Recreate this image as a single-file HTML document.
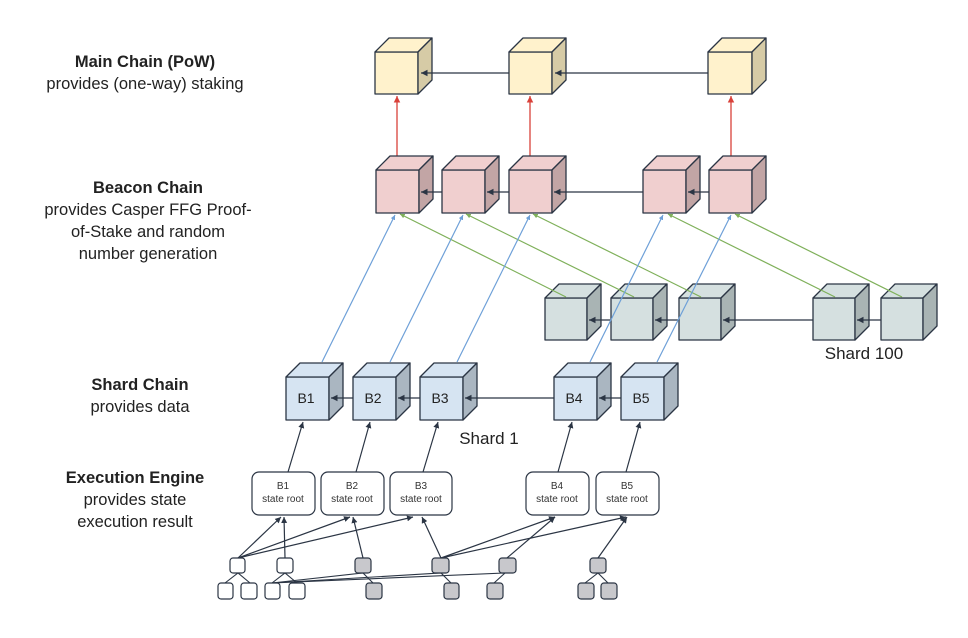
<!DOCTYPE html>
<html><head><meta charset="utf-8"><style>
body{margin:0;background:#fff;width:968px;height:638px;overflow:hidden}
svg{display:block}
.t{font-family:"Liberation Sans",sans-serif;font-size:16.5px;fill:#222;text-anchor:middle}
.b{font-weight:bold}
.c{stroke:#2b3544;stroke-width:1.3;stroke-linejoin:round}
</style></head><body>
<svg width="968" height="638" viewBox="0 0 968 638" xmlns="http://www.w3.org/2000/svg">
<defs>
<marker id="ak" markerWidth="6" markerHeight="6" refX="5" refY="3" orient="auto"><path d="M0,0.5 L5,3 L0,5.5z" fill="#2b3544"/></marker>
<marker id="ar" markerWidth="6" markerHeight="6" refX="5" refY="3" orient="auto"><path d="M0,0.5 L5,3 L0,5.5z" fill="#d9413a"/></marker>
<marker id="ab" markerWidth="5" markerHeight="5" refX="4" refY="2.5" orient="auto"><path d="M0,0.5 L4,2.5 L0,4.5z" fill="#6ea0d8"/></marker>
<marker id="ag" markerWidth="5" markerHeight="5" refX="4" refY="2.5" orient="auto"><path d="M0,0.5 L4,2.5 L0,4.5z" fill="#7fb05a"/></marker>
</defs>

<!-- left labels -->
<text class="t b" x="145" y="67">Main Chain (PoW)</text>
<text class="t" x="145" y="89">provides (one-way) staking</text>
<text class="t b" x="148" y="193">Beacon Chain</text>
<text class="t" x="148" y="215">provides Casper FFG Proof-</text>
<text class="t" x="148" y="237">of-Stake and random</text>
<text class="t" x="148" y="259">number generation</text>
<text class="t b" x="140" y="390">Shard Chain</text>
<text class="t" x="140" y="412">provides data</text>
<text class="t b" x="135" y="483">Execution Engine</text>
<text class="t" x="135" y="505">provides state</text>
<text class="t" x="135" y="527">execution result</text>

<!-- red arrows -->
<g stroke="#d9413a" stroke-width="1.3" marker-end="url(#ar)">
<line x1="397" y1="170" x2="397" y2="96"/>
<line x1="530" y1="170" x2="530" y2="96"/>
<line x1="731" y1="170" x2="731" y2="96"/>
</g>

<!-- main chain cubes -->
<g class="c">
<rect x="375" y="52" width="43" height="42" fill="#fff2cc"/><polygon points="375,52 389,38 432,38 418,52" fill="#fff2cc"/><polygon points="418,52 432,38 432,80 418,94" fill="#d6cba6"/>
<rect x="509" y="52" width="43" height="42" fill="#fff2cc"/><polygon points="509,52 523,38 566,38 552,52" fill="#fff2cc"/><polygon points="552,52 566,38 566,80 552,94" fill="#d6cba6"/>
<rect x="708" y="52" width="44" height="42" fill="#fff2cc"/><polygon points="708,52 722,38 766,38 752,52" fill="#fff2cc"/><polygon points="752,52 766,38 766,80 752,94" fill="#d6cba6"/>
</g>
<g stroke="#2b3544" stroke-width="1.3" marker-end="url(#ak)">
<line x1="509" y1="73" x2="421" y2="73"/>
<line x1="708" y1="73" x2="555" y2="73"/>
</g>

<!-- beacon cubes -->
<g class="c">
<rect x="376" y="170" width="43" height="43" fill="#f0cfcf"/><polygon points="376,170 390,156 433,156 419,170" fill="#f0cfcf"/><polygon points="419,170 433,156 433,199 419,213" fill="#c2a5a5"/>
<rect x="442" y="170" width="43" height="43" fill="#f0cfcf"/><polygon points="442,170 456,156 499,156 485,170" fill="#f0cfcf"/><polygon points="485,170 499,156 499,199 485,213" fill="#c2a5a5"/>
<rect x="509" y="170" width="43" height="43" fill="#f0cfcf"/><polygon points="509,170 523,156 566,156 552,170" fill="#f0cfcf"/><polygon points="552,170 566,156 566,199 552,213" fill="#c2a5a5"/>
<rect x="643" y="170" width="43" height="43" fill="#f0cfcf"/><polygon points="643,170 657,156 700,156 686,170" fill="#f0cfcf"/><polygon points="686,170 700,156 700,199 686,213" fill="#c2a5a5"/>
<rect x="709" y="170" width="43" height="43" fill="#f0cfcf"/><polygon points="709,170 723,156 766,156 752,170" fill="#f0cfcf"/><polygon points="752,170 766,156 766,199 752,213" fill="#c2a5a5"/>
</g>
<g stroke="#2b3544" stroke-width="1.3" marker-end="url(#ak)">
<line x1="442" y1="192" x2="421" y2="192"/>
<line x1="509" y1="192" x2="487" y2="192"/>
<line x1="643" y1="192" x2="554" y2="192"/>
<line x1="709" y1="192" x2="688" y2="192"/>
</g>

<!-- shard 100 cubes -->
<g class="c">
<rect x="545" y="298" width="42" height="42" fill="#d5e0e0"/><polygon points="545,298 559,284 601,284 587,298" fill="#d5e0e0"/><polygon points="587,298 601,284 601,326 587,340" fill="#a9b4b4"/>
<rect x="611" y="298" width="42" height="42" fill="#d5e0e0"/><polygon points="611,298 625,284 667,284 653,298" fill="#d5e0e0"/><polygon points="653,298 667,284 667,326 653,340" fill="#a9b4b4"/>
<rect x="679" y="298" width="42" height="42" fill="#d5e0e0"/><polygon points="679,298 693,284 735,284 721,298" fill="#d5e0e0"/><polygon points="721,298 735,284 735,326 721,340" fill="#a9b4b4"/>
<rect x="813" y="298" width="42" height="42" fill="#d5e0e0"/><polygon points="813,298 827,284 869,284 855,298" fill="#d5e0e0"/><polygon points="855,298 869,284 869,326 855,340" fill="#a9b4b4"/>
<rect x="881" y="298" width="42" height="42" fill="#d5e0e0"/><polygon points="881,298 895,284 937,284 923,298" fill="#d5e0e0"/><polygon points="923,298 937,284 937,326 923,340" fill="#a9b4b4"/>
</g>
<g stroke="#2b3544" stroke-width="1.3" marker-end="url(#ak)">
<line x1="611" y1="320" x2="589" y2="320"/>
<line x1="679" y1="320" x2="655" y2="320"/>
<line x1="813" y1="320" x2="723" y2="320"/>
<line x1="881" y1="320" x2="857" y2="320"/>
</g>
<text class="t" x="864" y="359" style="font-size:17px">Shard 100</text>

<!-- green lines -->
<g stroke="#7fb05a" stroke-width="1.2" marker-end="url(#ag)">
<line x1="566" y1="297" x2="400" y2="214"/>
<line x1="634" y1="297" x2="466" y2="214"/>
<line x1="701" y1="297" x2="533" y2="214"/>
<line x1="835" y1="297" x2="668" y2="214"/>
<line x1="902" y1="297" x2="735" y2="214"/>
</g>

<!-- shard 1 cubes -->
<g class="c">
<rect x="286" y="377" width="43" height="43" fill="#d6e4f2"/><polygon points="286,377 300,363 343,363 329,377" fill="#d6e4f2"/><polygon points="329,377 343,363 343,406 329,420" fill="#aab6c1"/>
<rect x="353" y="377" width="43" height="43" fill="#d6e4f2"/><polygon points="353,377 367,363 410,363 396,377" fill="#d6e4f2"/><polygon points="396,377 410,363 410,406 396,420" fill="#aab6c1"/>
<rect x="420" y="377" width="43" height="43" fill="#d6e4f2"/><polygon points="420,377 434,363 477,363 463,377" fill="#d6e4f2"/><polygon points="463,377 477,363 477,406 463,420" fill="#aab6c1"/>
<rect x="554" y="377" width="43" height="43" fill="#d6e4f2"/><polygon points="554,377 568,363 611,363 597,377" fill="#d6e4f2"/><polygon points="597,377 611,363 611,406 597,420" fill="#aab6c1"/>
<rect x="621" y="377" width="43" height="43" fill="#d6e4f2"/><polygon points="621,377 635,363 678,363 664,377" fill="#d6e4f2"/><polygon points="664,377 678,363 678,406 664,420" fill="#aab6c1"/>
</g>
<g stroke="#2b3544" stroke-width="1.3" marker-end="url(#ak)">
<line x1="353" y1="398" x2="331" y2="398"/>
<line x1="420" y1="398" x2="398" y2="398"/>
<line x1="554" y1="398" x2="465" y2="398"/>
<line x1="621" y1="398" x2="599" y2="398"/>
</g>
<g class="t" style="font-size:14px">
<text x="306" y="403">B1</text><text x="373" y="403">B2</text><text x="440" y="403">B3</text><text x="574" y="403">B4</text><text x="641" y="403">B5</text>
</g>
<text class="t" x="489" y="444" style="font-size:17px">Shard 1</text>

<!-- blue lines -->
<g stroke="#6ea0d8" stroke-width="1.2" marker-end="url(#ab)">
<line x1="322" y1="362" x2="395" y2="215"/>
<line x1="390" y1="362" x2="463" y2="215"/>
<line x1="457" y1="362" x2="530" y2="215"/>
<line x1="590" y1="362" x2="663" y2="215"/>
<line x1="657" y1="362" x2="731" y2="215"/>
</g>

<!-- exec to shard arrows -->
<g stroke="#2b3544" stroke-width="1.2" marker-end="url(#ak)">
<line x1="288" y1="472" x2="303" y2="422"/>
<line x1="356" y1="472" x2="370" y2="422"/>
<line x1="423" y1="472" x2="438" y2="422"/>
<line x1="558" y1="472" x2="572" y2="422"/>
<line x1="626" y1="472" x2="640" y2="422"/>
</g>

<!-- exec boxes -->
<g fill="#fff" stroke="#2b3544" stroke-width="1.2">
<rect x="252" y="472" width="63" height="43" rx="7"/>
<rect x="321" y="472" width="63" height="43" rx="7"/>
<rect x="390" y="472" width="62" height="43" rx="7"/>
<rect x="526" y="472" width="63" height="43" rx="7"/>
<rect x="596" y="472" width="63" height="43" rx="7"/>
</g>
<g class="t" style="font-size:10px;fill:#333">
<text x="283" y="489">B1</text><text x="283" y="502">state root</text>
<text x="352" y="489">B2</text><text x="352" y="502">state root</text>
<text x="421" y="489">B3</text><text x="421" y="502">state root</text>
<text x="557" y="489">B4</text><text x="557" y="502">state root</text>
<text x="627" y="489">B5</text><text x="627" y="502">state root</text>
</g>

<!-- lower lines -->
<g stroke="#2b3544" stroke-width="1.2" marker-end="url(#ak)">
<line x1="238" y1="558" x2="281" y2="517"/>
<line x1="238" y1="558" x2="350" y2="517"/>
<line x1="238" y1="558" x2="413" y2="517"/>
<line x1="285" y1="558" x2="284" y2="517"/>
<line x1="363" y1="558" x2="353" y2="517"/>
<line x1="441" y1="558" x2="422" y2="517"/>
<line x1="441" y1="558" x2="555" y2="517"/>
<line x1="441" y1="558" x2="626" y2="517"/>
<line x1="507" y1="558" x2="555" y2="517"/>
<line x1="598" y1="558" x2="627" y2="517"/>
</g>
<g stroke="#2b3544" stroke-width="1.1" fill="none">
<path d="M225,583 L238,573 L250,583"/>
<path d="M272,583 L285,573 L297,583"/>
<path d="M272,583 L363,573 L373,583"/>
<path d="M272,583 L441,573 L451,583"/>
<path d="M272,583 L505,573 L494,583"/>
<path d="M585,583 L598,573 L608,583"/>
</g>

<!-- small squares -->
<g stroke="#2b3544" stroke-width="1.2">
<rect x="230" y="558" width="15" height="15" rx="3" fill="#fff"/>
<rect x="277" y="558" width="16" height="15" rx="3" fill="#fff"/>
<rect x="355" y="558" width="16" height="15" rx="3" fill="#c8c8cc"/>
<rect x="432" y="558" width="17" height="15" rx="3" fill="#c8c8cc"/>
<rect x="499" y="558" width="17" height="15" rx="3" fill="#c8c8cc"/>
<rect x="590" y="558" width="16" height="15" rx="3" fill="#c8c8cc"/>
<rect x="218" y="583" width="15" height="16" rx="3" fill="#fff"/>
<rect x="241" y="583" width="16" height="16" rx="3" fill="#fff"/>
<rect x="265" y="583" width="15" height="16" rx="3" fill="#fff"/>
<rect x="289" y="583" width="16" height="16" rx="3" fill="#fff"/>
<rect x="366" y="583" width="16" height="16" rx="3" fill="#c8c8cc"/>
<rect x="444" y="583" width="15" height="16" rx="3" fill="#c8c8cc"/>
<rect x="487" y="583" width="16" height="16" rx="3" fill="#c8c8cc"/>
<rect x="578" y="583" width="16" height="16" rx="3" fill="#c8c8cc"/>
<rect x="601" y="583" width="16" height="16" rx="3" fill="#c8c8cc"/>
</g>
</svg>
</body></html>
